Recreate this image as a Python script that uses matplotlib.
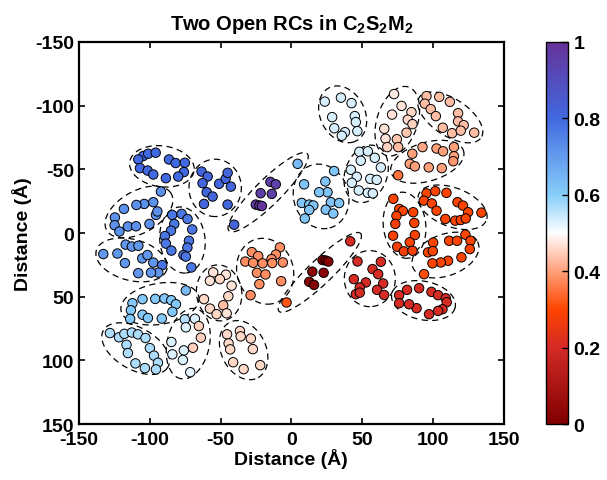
import numpy as np
import matplotlib
matplotlib.use("Agg")
import matplotlib.pyplot as plt
from matplotlib.colors import LinearSegmentedColormap

plt.rcParams['font.family'] = ['Liberation Sans', 'DejaVu Sans']
plt.rcParams['font.weight'] = 'bold'
plt.rcParams['mathtext.fontset'] = 'custom'
plt.rcParams['mathtext.rm'] = 'Liberation Sans:bold'
plt.rcParams['mathtext.default'] = 'rm'
plt.rcParams['axes.unicode_minus'] = False

# point positions (Angstrom) and open-RC value, grouped by cluster
px = [
    # A
    -104.6, -101.1, -95.8, -108.1, -106.9, -101.5, -97.5, -88.6, -86.4, -81.7, -75.2, -75.9, -79.9,
    # B
    -63.4, -59.1, -62.7, -59.8, -55.6, -61.7, -45.0, -51.0, -46.4, -45.0, -42.7,
    # C
    -14.8, -11.0, -21.7, -13.8, -25.1, -22.6, -20.8, -40.4, 4.4,
    # D
    9.0, 7.4, 12.6, 15.5, 12.6, 9.5, 24.0, 30.2, 25.5, 19.6, 27.9, 33.7, 24.3, 29.6,
    # E
    23.6, 35.0, 42.5, 28.8, 44.8, 45.5, 30.3, 37.8, 35.6, 46.6,
    # F
    48.0, 54.0, 58.9, 49.0, 42.0, 63.2, 46.2, 55.7, 60.3, 47.6, 54.0, 57.5, 42.7,
    # G
    72.5, 77.8, 71.1, 84.8, 82.2, 85.5, 81.3, 65.6, 66.5, 74.5, 67.7, 75.4,
    # H
    95.4, 104.4, 111.9, 94.2, 98.4, 102.0, 117.7, 117.7, 121.7, 106.9, 113.5, 119.6, 129.1,
    # I
    85.4, 92.6, 102.5, 107.1, 114.8, 114.8, 114.3, 83.6, 87.2, 97.0, 106.2, 75.4,
    # J
    95.4, 101.6, 109.5, 93.5, 99.2, 102.5, 108.7, 115.7, 119.6, 117.3, 121.2, 124.8, 123.1, 134.2,
    # K
    72.0, 76.2, 78.7, 86.0, 86.8, 74.2, 73.4, 71.8, 87.2, 83.6, 74.7, 79.4, 85.5,
    # L
    100.1, 111.4, 117.0, 122.9, 126.5, 126.0, 120.1, 110.6, 105.5, 99.6, 96.5, 99.9, 93.7,
    # M
    76.1, 81.7, 90.2, 98.9, 103.6, 109.0, 109.7, 106.7, 103.6, 97.2, 88.4, 83.1, 76.1,
    # N
    46.7, 63.2, 57.3, 61.3, 44.1, 52.6, 48.3, 45.5, 48.3, 64.8, 60.5, 65.5,
    # O
    22.0, 24.3, 26.1, 14.8, 22.8, 12.6, 16.0, -3.4, 41.6,
    # P
    -27.9, -23.4, -32.5, -27.0, -20.3, -8.1, -10.9, -14.0, -13.5, -6.0, -24.3, -18.3, -22.6, -7.2, -28.8,
    # Q
    -55.2, -46.2, -57.5, -50.5, -42.2, -61.7, -44.5, -57.5, -48.1, -52.8, -45.7,
    # R
    -45.4, -36.3, -35.8, -28.6, -44.3, -43.2, -27.2, -41.1, -33.7, -22.0,
    # S
    -75.2, -68.1, -74.5, -84.7, -84.0, -75.9, -76.6, -71.4, -65.3, -63.9, -69.5,
    # T
    -128.1, -121.7, -117.9, -112.6, -108.3, -103.0, -116.4, -115.4, -99.9, -97.0, -94.2, -110.1, -103.4, -95.6,
    # U
    -112.2, -105.1, -96.1, -89.6, -84.8, -81.5, -113.3, -113.8, -105.1, -101.3, -91.5, -84.0, -74.5,
    # V
    -132.8, -122.8, -117.0, -112.6, -108.0, -117.5, -105.3, -101.6, -97.5, -91.2, -94.0, -99.1, -108.1,
    # W
    -92.1, -97.5, -103.9, -109.4, -118.2, -124.6, -124.8, -121.4, -115.4, -109.7, -100.2, -95.6, -94.6,
    # X
    -84.1, -77.5, -73.3, -82.7, -70.0, -85.0, -89.3, -72.3, -73.4, -88.6, -84.7, -76.2, -74.5, -70.6,
]
py = [
    -60.4, -62.2, -63.0, -57.7, -50.9, -49.0, -45.9, -43.0, -57.7, -54.9, -55.1, -47.8, -44.3,
    -48.2, -44.3, -39.1, -32.0, -28.6, -22.8, -22.3, -38.6, -42.5, -47.2, -36.4,
    -40.1, -38.2, -31.2, -30.7, -22.3, -21.6, -21.2, -6.5, -54.3,
    -38.2, -23.6, -22.3, -21.6, -18.1, -11.4, -40.4, -48.6, -32.0, -32.0, -24.2, -23.5, -18.3, -15.3,
    -103.1, -106.2, -101.9, -90.9, -91.7, -87.0, -82.2, -79.1, -76.3, -79.9,
    -63.7, -64.1, -59.0, -56.7, -49.6, -51.5, -44.1, -42.5, -41.7, -33.4, -31.5, -31.1, -39.4,
    -109.0, -99.7, -92.9, -94.8, -88.9, -85.4, -78.7, -81.8, -74.0, -73.6, -67.4, -67.4,
    -107.4, -106.8, -102.9, -101.5, -97.2, -91.7, -94.0, -87.6, -84.6, -82.6, -78.3, -80.3, -78.7,
    -62.2, -67.4, -66.3, -64.1, -67.4, -60.2, -56.3, -54.3, -52.3, -51.5, -50.9, -45.3,
    -31.1, -32.8, -31.5, -25.4, -23.2, -17.5, -11.0, -9.7, -10.2, -24.2, -21.5, -16.3, -11.4, -16.0,
    -26.8, -18.9, -17.3, -16.3, -7.9, -13.4, -7.1, 2.1, 1.6, 7.3, 10.8, 14.4, 13.9,
    7.5, 6.1, 6.1, 1.3, 6.1, 12.6, 19.1, 21.8, 23.1, 23.8, 15.2, 14.2, 32.3,
    48.8, 44.6, 43.3, 46.2, 48.8, 51.2, 54.3, 59.8, 61.1, 63.7, 59.0, 55.9, 55.1,
    22.3, 22.6, 28.3, 32.3, 36.2, 38.8, 42.7, 48.0, 46.8, 39.6, 44.6, 48.6,
    21.2, 21.6, 22.4, 30.3, 31.2, 38.3, 40.7, 54.5, 6.5,
    15.0, 18.1, 22.4, 23.4, 23.8, 11.3, 16.9, 20.5, 23.6, 23.1, 31.2, 32.5, 40.1, 37.8, 48.8,
    30.9, 32.7, 37.5, 36.2, 41.3, 51.9, 49.6, 59.3, 56.7, 63.7, 63.0,
    79.5, 76.9, 81.1, 82.8, 86.6, 91.3, 91.1, 101.4, 106.8, 103.7,
    67.7, 67.3, 74.0, 85.5, 95.2, 92.1, 99.6, 109.2, 73.0, 82.1, 90.0,
    78.5, 81.8, 79.1, 78.1, 79.5, 82.4, 87.7, 94.2, 90.3, 96.2, 101.8, 102.3, 106.0, 107.0,
    55.1, 51.9, 51.7, 51.4, 52.7, 55.9, 60.6, 67.4, 64.1, 66.7, 67.1, 61.8, 45.1,
    16.5, 16.1, 9.1, 10.6, 10.0, 23.6, 19.9, 17.3, 23.2, 25.2, 31.1, 31.1, 31.5,
    -32.5, -24.2, -22.8, -22.0, -18.9, -12.2, -6.1, -1.2, -5.1, -5.3, -7.1, -14.2, -16.9,
    -14.2, -15.0, -11.0, -7.1, -2.8, -1.8, 2.4, 6.1, 11.4, 8.3, 13.8, 17.3, 18.5, 27.0,
]
pval = (
    [0.80] * 13
    + [0.81] * 11
    + [0.96, 0.95, 0.96, 0.95, 0.98, 1.0, 0.99, 0.82, 0.64]
    + [0.62] * 14
    + [0.535] * 10
    + [0.535] * 13
    + [0.48, 0.47, 0.47, 0.46, 0.46, 0.45, 0.44, 0.47, 0.47, 0.44, 0.45, 0.43]
    + [0.43] * 13
    + [0.40, 0.41, 0.40, 0.40, 0.40, 0.40, 0.39, 0.40, 0.40, 0.40, 0.40, 0.35]
    + [0.30] * 14
    + [0.30, 0.30, 0.30, 0.30, 0.30, 0.30, 0.27, 0.29, 0.29, 0.29, 0.28, 0.28, 0.28]
    + [0.30] * 12 + [0.31]
    + [0.21] * 13
    + [0.21] * 12
    + [0.01, 0.0, 0.02, 0.03, 0.03, 0.03, 0.01, 0.32, 0.21]
    + [0.38] * 15
    + [0.47, 0.47, 0.47, 0.46, 0.47, 0.46, 0.46, 0.46, 0.43, 0.46, 0.47]
    + [0.46] * 10
    + [0.56, 0.53, 0.53, 0.53, 0.53, 0.53, 0.53, 0.52, 0.45, 0.45, 0.45]
    + [0.57] * 14
    + [0.61] * 12 + [0.64]
    + [0.71] * 9 + [0.78] + [0.71] * 3
    + [0.72] * 13
    + [0.77] * 14
)

# dashed cluster outlines: centre, semi-axes, angle (deg, data space)
ell_cx = [-91.4, -53.8, -16.4, 21.0, 36.2, 52.8, 74.8, 112.2, 96.0, 113.8, 79.9, 108.8,
          93.3, 55.4, 20.1, -18.5, -51.0, -33.7, -72.8, -109.9, -92.8, -112.8, -107.6, -76.9]
ell_cy = [-52.3, -35.4, -32.0, -28.7, -93.1, -46.4, -87.7, -90.7, -55.9, -20.2, -6.1, 17.3,
          53.0, 35.8, 30.9, 30.0, 47.0, 91.9, 86.8, 90.7, 55.5, 21.1, -16.5, 5.5]
ell_a = [23, 22.5, 41, 25.5, 23, 23, 28, 27, 27, 26, 26, 25,
         23, 22, 42, 26, 22, 24, 28, 27, 28, 26, 27, 26]
ell_b = [16, 18.5, 9.5, 19.5, 16, 15, 14.5, 14, 15, 15, 15, 16,
         15, 18, 9, 20, 16, 16, 15, 16, 16, 16, 16, 16]
ell_ang = [10, 90, -48, 80, 70, 105, 105, 38, -20, 25, 85, -25,
           15, 90, -47, 80, 85, 70, 100, 35, -12, 18, -35, 85]

cmap = LinearSegmentedColormap.from_list('rcmap', [
    (0.0, '#800000'), (0.2, '#d42a26'), (0.3, '#ff4500'), (0.4, '#ffa07a'),
    (0.5, '#ffffff'), (0.6, '#87cefa'), (0.8, '#4169e1'), (1.0, '#663399')])

fig = plt.figure(figsize=(6.07, 4.81), dpi=100)
ax = fig.add_axes([0.130, 0.116, 0.700, 0.795])

t = np.linspace(0, 2 * np.pi, 300)
for cx, cy, a, b, ang in zip(ell_cx, ell_cy, ell_a, ell_b, ell_ang):
    th = np.deg2rad(ang)
    ex = cx + a * np.cos(t) * np.cos(th) - b * np.sin(t) * np.sin(th)
    ey = cy + a * np.cos(t) * np.sin(th) + b * np.sin(t) * np.cos(th)
    ax.plot(ex, ey, color='k', lw=0.9, linestyle=(0, (5, 3.5)), zorder=1)

sc = ax.scatter(px, py, c=pval, cmap=cmap, vmin=0, vmax=1, s=46,
                edgecolors='k', linewidths=0.7, zorder=2)

ax.set_xlim(-150, 150)
ax.set_ylim(150, -150)
ax.set_xticks(np.arange(-150, 151, 50))
ax.set_yticks(np.arange(-150, 151, 50))
ax.tick_params(direction='in', length=4, width=1.2, top=True, right=True, labelsize=14)
ax.tick_params(axis='x', pad=5)
for s in ax.spines.values():
    s.set_linewidth(1.6)
ax.set_xlabel('Distance (Å)', fontsize=14, fontweight='bold', labelpad=0)
ax.set_ylabel('Distance (Å)', fontsize=14, fontweight='bold', labelpad=2)
ax.set_title('Two Open RCs in C$_2$S$_2$M$_2$', fontsize=14.5, fontweight='bold', pad=9)

cax = fig.add_axes([0.8995, 0.116, 0.037, 0.795])
cb = fig.colorbar(sc, cax=cax, ticks=[0, 0.2, 0.4, 0.6, 0.8, 1])
cb.ax.set_yticklabels(['0', '0.2', '0.4', '0.6', '0.8', '1'])
cb.ax.tick_params(direction='in', length=4, width=1.0, labelsize=14)
cb.outline.set_linewidth(1.0)

fig.savefig('out.png', dpi=100)
